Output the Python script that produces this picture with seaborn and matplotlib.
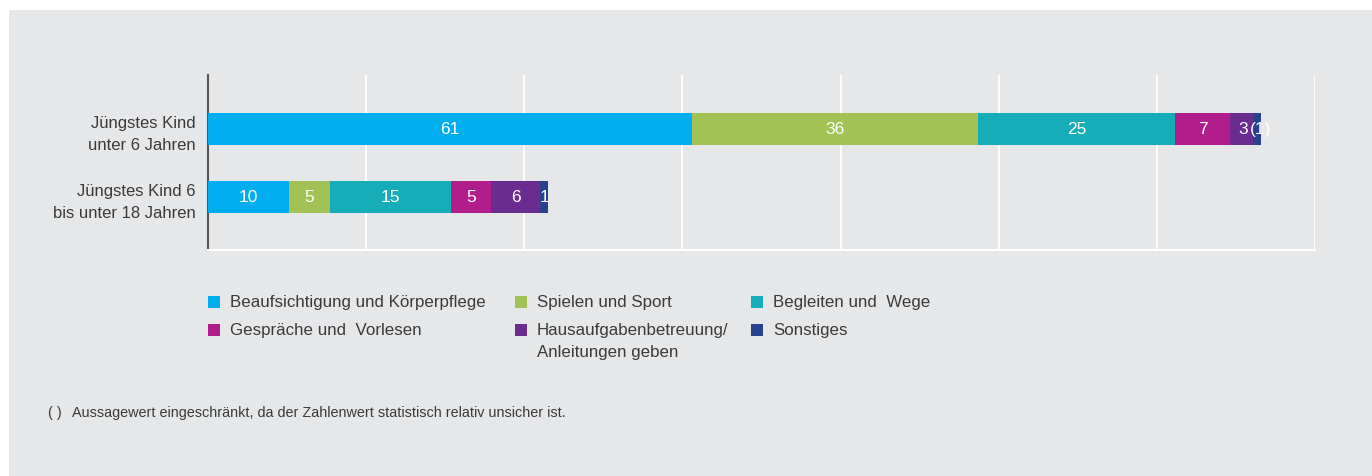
import numpy as np
import matplotlib
matplotlib.use("Agg")
import matplotlib.pyplot as plt
from matplotlib.patches import Rectangle
import seaborn as sns

# Daten
gruppen = ["Jüngstes Kind\nunter 6 Jahren", "Jüngstes Kind 6\nbis unter 18 Jahren"]
kategorien = ["Beaufsichtigung und Körperpflege", "Spielen und Sport", "Begleiten und  Wege",
              "Gespräche und  Vorlesen", "Hausaufgabenbetreuung/\nAnleitungen geben", "Sonstiges"]
werte_u6 = [61.2, 36.2, 24.9, 7.0, 2.9, 1.0]
werte_6_18 = [10.2, 5.2, 15.3, 5.1, 6.2, 1.0]
labels_u6 = ["61", "36", "25", "7", "3", "(1)"]
labels_6_18 = ["10", "5", "15", "5", "6", "1"]
farben = ["#00aeef", "#a3c255", "#17adb8", "#b11e8c", "#6a2c8e", "#27418f"]

sns.set_style("white")
plt.rcParams["font.family"] = ["Liberation Sans", "DejaVu Sans"]

BG = "#e6e7e9"
TXT = "#3a3a3a"
W, H = 1372, 476
fig = plt.figure(figsize=(W / 100, H / 100), dpi=100)
fig.patch.set_facecolor("white")
fig.patches.append(Rectangle((9 / W, 0), 1, 1 - 10 / H, transform=fig.transFigure,
                             facecolor=BG, edgecolor="none", zorder=-10))

ax = fig.add_axes([208 / W, 1 - 250 / H, 1107 / W, 175 / H])
ax.set_facecolor(BG)

werte = np.array([werte_u6, werte_6_18])
kum = np.cumsum(werte, axis=1)

# gestapelte Balken: von hinten (Gesamtsumme) nach vorne zeichnen
for k in reversed(range(len(kategorien))):
    sns.barplot(x=kum[:, k], y=gruppen, color=farben[k], orient="h", width=0.467,
                saturation=1, linewidth=0, edgecolor="none", ax=ax, zorder=3)

alle_labels = [labels_u6, labels_6_18]
for i in range(len(gruppen)):
    links = 0
    for k in range(len(kategorien)):
        v = werte[i, k]
        lab = alle_labels[i][k]
        # "3" und "(1)" im schmalen Ende etwas auseinanderziehen
        ha = "center"
        if lab == "3":
            ha = "right"
            xpos = links + v * 0.75
        elif lab == "(1)":
            ha = "left"
            xpos = links - v * 0.4
        else:
            xpos = links + v / 2
        ax.text(xpos, i, lab, ha=ha, va="center", color="white", fontsize=12.5, zorder=5)
        links += v

ax.set_xlim(0, 140)
ax.set_ylim(1.77, -0.79)
ax.set_xticks(np.arange(0, 141, 20))
ax.set_xticklabels([])
ax.grid(axis="x", color="white", linewidth=1.3)
ax.grid(axis="y", visible=False)
ax.set_axisbelow(True)
ax.set_xlabel("")
ax.set_ylabel("")
ax.tick_params(axis="both", length=0)
ax.tick_params(axis="y", pad=9, labelsize=12, labelcolor=TXT)
for t in ax.get_yticklabels():
    t.set_horizontalalignment("right")
    t.set_multialignment("right")
    t.set_linespacing(1.6)
for s in ["top", "right"]:
    ax.spines[s].set_visible(False)
ax.spines["left"].set_color("#555555")
ax.spines["left"].set_linewidth(1.5)
ax.spines["bottom"].set_color("white")
ax.spines["bottom"].set_linewidth(1.5)

# Legende
spalten_x = [208, 515, 751]
zeilen_y = [302, 330]
for idx, name in enumerate(kategorien):
    r, c = divmod(idx, 3)
    x0, y0 = spalten_x[c], zeilen_y[r]
    fig.patches.append(Rectangle((x0 / W, 1 - (y0 + 6) / H), 12 / W, 12 / H,
                                 transform=fig.transFigure, facecolor=farben[idx],
                                 edgecolor="none"))
    fig.text((x0 + 22) / W, 1 - (y0 - 7) / H, name, ha="left", va="top",
             fontsize=12.2, color=TXT, linespacing=1.55)

# Fußnote
fig.text(48 / W, 1 - 413 / H, "( )", ha="left", va="center", fontsize=10.4, color=TXT)
fig.text(72 / W, 1 - 413 / H,
         "Aussagewert eingeschränkt, da der Zahlenwert statistisch relativ unsicher ist.",
         ha="left", va="center", fontsize=10.4, color=TXT)

fig.savefig("out.png", dpi=100, facecolor=fig.get_facecolor())
